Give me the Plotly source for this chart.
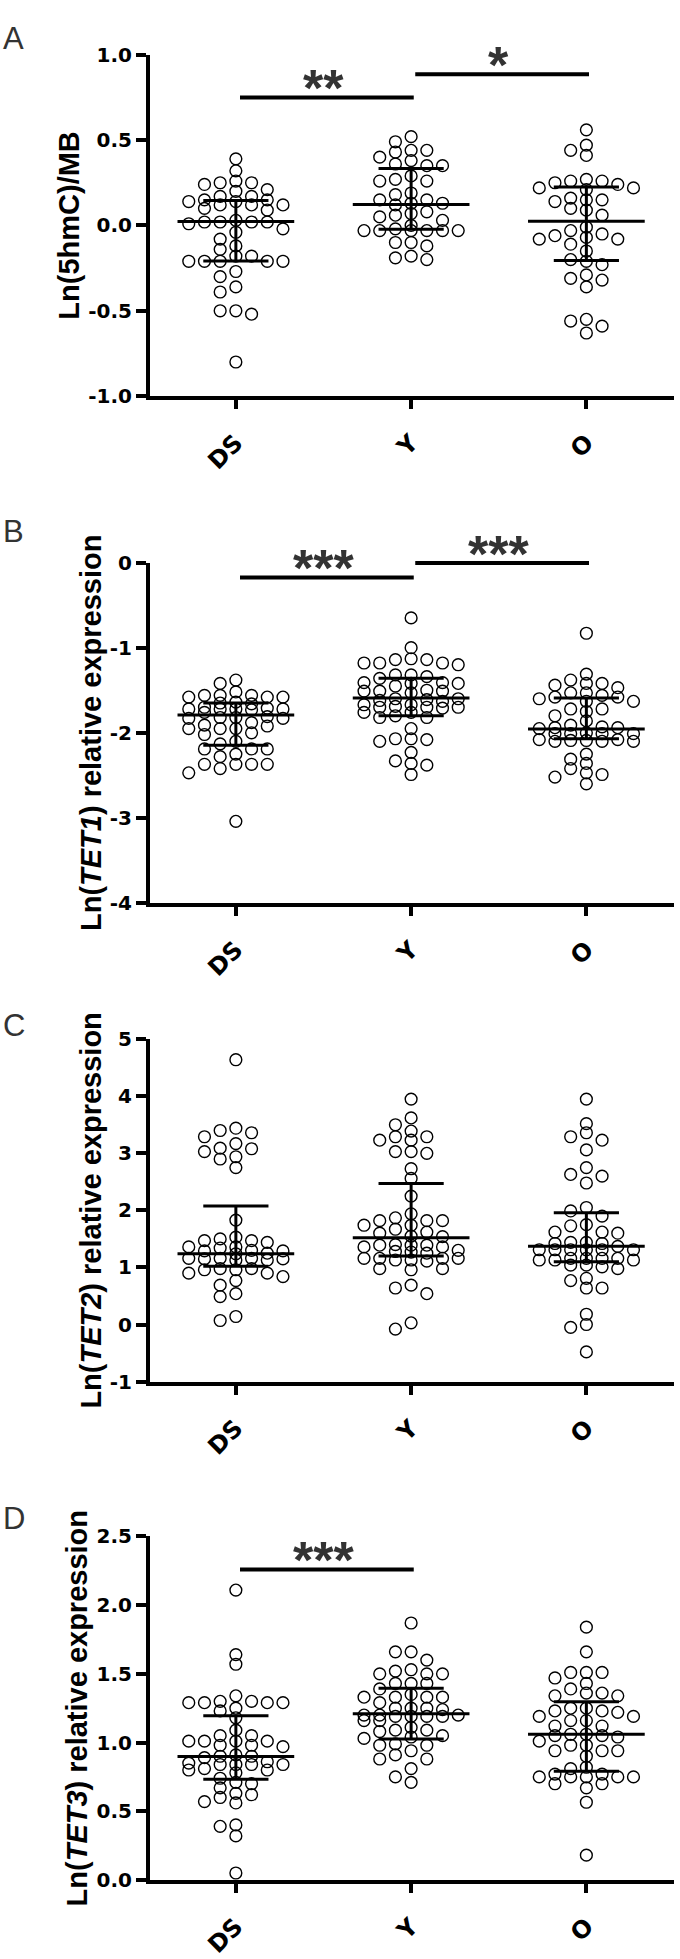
import numpy as np
import plotly.graph_objects as go

groups = ["DS", "Y", "O"]

# ---------------- Panel A: Ln(5hmC)/MB ----------------
a_ds = [0.39, 0.32, 0.26, 0.25, 0.24, 0.25, 0.21, 0.20, 0.17, 0.17, 0.15, 0.14, 0.12, 0.12,
        0.12, 0.14, 0.15, 0.10, 0.09, 0.03, 0.01, 0.02, 0.02, 0.02, 0.02, -0.02, -0.04, -0.08,
        -0.12, -0.14, -0.18, -0.18, -0.21, -0.21, -0.21, -0.21, -0.21, -0.27, -0.30, -0.36,
        -0.39, -0.50, -0.52, -0.50, -0.80]
a_y = [0.52, 0.49, 0.44, 0.44, 0.43, 0.40, 0.38, 0.35, 0.35, 0.36, 0.29, 0.27, 0.26, 0.26,
       0.19, 0.18, 0.15, 0.12, 0.13, 0.13, 0.15, 0.08, 0.07, 0.05, 0.03, 0.06, 0.00, -0.03,
       -0.03, -0.03, -0.03, -0.03, -0.03, -0.02, -0.10, -0.10, -0.12, -0.18, -0.20, -0.19]
a_o = [0.56, 0.47, 0.44, 0.41, 0.26, 0.24, 0.27, 0.26, 0.25, 0.22, 0.21, 0.22, 0.16, 0.15,
       0.14, 0.15, 0.10, 0.09, 0.06, -0.01, -0.05, -0.07, -0.08, -0.08, -0.06, -0.03, -0.11,
       -0.15, -0.20, -0.23, -0.21, -0.29, -0.32, -0.36, -0.31, -0.56, -0.63, -0.59, -0.55]
a_med = [0.023, 0.123, 0.025]
a_hi = [0.146, 0.333, 0.225]
a_lo = [-0.208, -0.023, -0.206]

# ---------------- Panel B: Ln(TET1) ----------------
b_ds = [-1.38, -1.42, -1.52, -1.56, -1.56, -1.58, -1.58, -1.58, -1.56, -1.64, -1.66, -1.65,
        -1.71, -1.72, -1.72, -1.72, -1.73, -1.72, -1.70, -1.76, -1.82, -1.83, -1.82, -1.83,
        -1.81, -1.88, -1.91, -1.95, -1.95, -1.95, -1.92, -2.00, -2.02, -2.10, -2.13, -2.19,
        -2.25, -2.19, -2.19, -2.28, -2.37, -2.37, -2.42, -2.47, -2.37, -2.37, -3.04]
b_y = [-0.65, -1.00, -1.14, -1.18, -1.20, -1.13, -1.18, -1.18, -1.14, -1.32, -1.32, -1.36,
       -1.34, -1.42, -1.41, -1.41, -1.45, -1.42, -1.50, -1.51, -1.51, -1.51, -1.53, -1.60,
       -1.62, -1.60, -1.61, -1.63, -1.67, -1.70, -1.71, -1.69, -1.70, -1.70, -1.67, -1.76,
       -1.80, -1.82, -1.82, -1.76, -1.95, -2.07, -2.10, -2.07, -2.08, -2.23, -2.36, -2.38,
       -2.33, -2.49]
b_o = [-0.83, -1.31, -1.38, -1.42, -1.44, -1.42, -1.47, -1.53, -1.53, -1.56, -1.58, -1.63,
       -1.63, -1.60, -1.58, -1.72, -1.75, -1.72, -1.80, -1.86, -1.91, -1.93, -1.95, -1.94,
       -1.94, -2.00, -2.01, -2.01, -2.01, -2.01, -2.08, -2.09, -2.10, -2.10, -2.10, -2.09,
       -2.08, -2.25, -2.31, -2.36, -2.42, -2.49, -2.52, -2.47, -2.60]
b_med = [-1.79, -1.59, -1.955]
b_hi = [-1.65, -1.36, -1.59]
b_lo = [-2.145, -1.80, -2.07]

# ---------------- Panel C: Ln(TET2) ----------------
c_ds = [4.64, 3.44, 3.40, 3.36, 3.29, 3.17, 3.08, 3.03, 3.09, 2.94, 2.90, 2.75, 1.83, 1.50,
        1.47, 1.44, 1.47, 1.53, 1.36, 1.36, 1.34, 1.29, 1.25, 1.29, 1.30, 1.24, 1.16, 1.15,
        1.13, 1.15, 1.13, 1.16, 1.16, 0.98, 0.96, 0.90, 0.84, 0.90, 0.96, 0.98, 0.77, 0.69,
        0.54, 0.49, 0.14, 0.07]
c_y = [3.95, 3.62, 3.50, 3.39, 3.29, 3.29, 3.23, 3.23, 3.03, 3.00, 3.03, 2.73, 2.56, 2.25,
       1.94, 1.87, 1.82, 1.82, 1.82, 1.74, 1.67, 1.60, 1.62, 1.74, 1.54, 1.55, 1.39, 1.36,
       1.30, 1.40, 1.39, 1.36, 1.39, 1.28, 1.27, 1.25, 1.16, 1.16, 1.13, 1.13, 1.16, 1.11,
       1.16, 0.98, 0.96, 0.98, 0.64, 0.54, 0.69, 0.03, -0.08]
c_o = [3.95, 3.52, 3.36, 3.29, 3.23, 3.06, 2.75, 2.63, 2.60, 2.48, 2.05, 1.99, 1.90, 1.73,
       1.62, 1.60, 1.62, 1.75, 1.42, 1.44, 1.44, 1.42, 1.37, 1.31, 1.31, 1.31, 1.31, 1.31,
       1.31, 1.16, 1.16, 1.13, 1.13, 1.13, 1.16, 1.16, 1.04, 1.01, 0.98, 1.04, 0.77, 0.64,
       0.64, 0.81, 0.18, 0.00, -0.05, -0.48]
c_med = [1.24, 1.52, 1.37]
c_hi = [2.075, 2.47, 1.96]
c_lo = [1.02, 1.20, 1.10]

# ---------------- Panel D: Ln(TET3) ----------------
d_ds = [2.11, 1.64, 1.57, 1.34, 1.30, 1.30, 1.29, 1.29, 1.29, 1.29, 1.25, 1.23, 1.18, 1.09,
        1.05, 1.05, 1.01, 1.01, 1.01, 1.01, 0.98, 0.98, 0.97, 0.91, 0.90, 0.89, 0.90, 0.85,
        0.84, 0.84, 0.84, 0.86, 0.84, 0.80, 0.81, 0.80, 0.78, 0.74, 0.71, 0.70, 0.67, 0.63,
        0.62, 0.60, 0.57, 0.56, 0.40, 0.39, 0.32, 0.05]
d_y = [1.87, 1.66, 1.66, 1.60, 1.53, 1.50, 1.50, 1.50, 1.52, 1.43, 1.43, 1.43, 1.39, 1.35,
       1.33, 1.33, 1.33, 1.33, 1.29, 1.25, 1.24, 1.25, 1.25, 1.20, 1.19, 1.19, 1.20, 1.20,
       1.19, 1.19, 1.16, 1.16, 1.11, 1.09, 1.09, 1.08, 1.05, 1.04, 1.03, 0.99, 0.94, 0.98,
       0.98, 0.88, 0.88, 0.91, 0.81, 0.71, 0.75]
d_o = [1.84, 1.66, 1.51, 1.51, 1.47, 1.51, 1.43, 1.39, 1.36, 1.34, 1.34, 1.36, 1.25, 1.25,
       1.23, 1.19, 1.19, 1.23, 1.22, 1.16, 1.16, 1.12, 1.12, 1.06, 1.05, 1.05, 1.06, 1.04,
       1.01, 0.98, 0.94, 0.94, 0.94, 0.98, 0.90, 0.82, 0.81, 0.77, 0.75, 0.75, 0.75, 0.75,
       0.75, 0.77, 0.70, 0.70, 0.67, 0.565, 0.18]
d_med = [0.899, 1.21, 1.06]
d_hi = [1.194, 1.395, 1.297]
d_lo = [0.733, 1.026, 0.79]

# significance comparisons: (group i, group j, bar height, label)
a_sig = [(0, 1, 0.75, "**"), (1, 2, 0.885, "*")]
b_sig = [(0, 1, -0.175, "***"), (1, 2, -0.005, "***")]
c_sig = []
d_sig = [(0, 1, 2.26, "***")]

a_ticks = [-1.0, -0.5, 0.0, 0.5, 1.0]
a_ticktext = ["-1.0", "-0.5", "0.0", "0.5", "1.0"]
b_ticks = [-4, -3, -2, -1, 0]
b_ticktext = ["-4", "-3", "-2", "-1", "0"]
c_ticks = [-1, 0, 1, 2, 3, 4, 5]
c_ticktext = ["-1", "0", "1", "2", "3", "4", "5"]
d_ticks = [0.0, 0.5, 1.0, 1.5, 2.0, 2.5]
d_ticktext = ["0.0", "0.5", "1.0", "1.5", "2.0", "2.5"]

panels = [
    dict(letter="A", vals=[a_ds, a_y, a_o], med=a_med, hi=a_hi, lo=a_lo, sig=a_sig,
         yr=[-1, 1], tv=a_ticks, tt=a_ticktext, title="<b>Ln(5hmC)/MB</b>",
         top=43.3, bot=389.3, ltop=7),
    dict(letter="B", vals=[b_ds, b_y, b_o], med=b_med, hi=b_hi, lo=b_lo, sig=b_sig,
         yr=[-4, 0], tv=b_ticks, tt=b_ticktext,
         title="<b>Ln(<i>TET1</i>) relative expression</b>",
         top=558, bot=903, ltop=507),
    dict(letter="C", vals=[c_ds, c_y, c_o], med=c_med, hi=c_hi, lo=c_lo, sig=c_sig,
         yr=[-1, 5], tv=c_ticks, tt=c_ticktext,
         title="<b>Ln(<i>TET2</i>) relative expression</b>",
         top=1041, bot=1388, ltop=1007),
    dict(letter="D", vals=[d_ds, d_y, d_o], med=d_med, hi=d_hi, lo=d_lo, sig=d_sig,
         yr=[0, 2.5], tv=d_ticks, tt=d_ticktext,
         title="<b>Ln(<i>TET3</i>) relative expression</b>",
         top=1545, bot=1893, ltop=1507),
]

W, H = 680, 1959
X_LEFT, X_RIGHT = 150, 674
XR = [-0.49, 2.50]
CAT_PX = (X_RIGHT - X_LEFT) / (XR[1] - XR[0])
FONT = "Liberation Sans, Arial, sans-serif"
WIDE = "DejaVu Sans, Liberation Sans, sans-serif"


def swarm(vals, ppu, s_px=15.7, thr=9.0, maxcol=3):
    """Place points on discrete columns (dot-plot style), at most +/-maxcol columns."""
    v = np.asarray(vals, dtype=float)
    order = np.argsort(-v, kind="stable")
    placed = {}
    offs = np.zeros(len(v))
    cols = [0]
    for k in range(1, maxcol + 1):
        cols += [-k, k]
    for idx in order:
        y = v[idx] * ppu
        chosen = None
        for c in cols:
            if all(abs(y - yy) >= thr for yy in placed.get(c, [])):
                chosen = c
                break
        if chosen is None:
            best = -1
            for c in cols:
                d = min(abs(y - yy) for yy in placed.get(c, [])) if placed.get(c) else 1e9
                if d > best + 0.5:
                    best, chosen = d, c
        placed.setdefault(chosen, []).append(y)
        offs[idx] = chosen * s_px / CAT_PX
    return offs


fig = go.Figure()
annotations = []
layout_axes = {}

for p, P in enumerate(panels):
    n = "" if p == 0 else str(p + 1)
    xa, ya = "x" + n, "y" + n
    ppu = (P["bot"] - P["top"]) / (P["yr"][1] - P["yr"][0])

    for g in range(3):
        vals = P["vals"][g]
        offs = swarm(vals, ppu)
        fig.add_trace(go.Scatter(
            x=g + offs, y=vals, mode="markers", xaxis=xa, yaxis=ya,
            marker=dict(symbol="circle-open", size=11.8, color="black",
                        line=dict(width=1.4, color="black")),
            cliponaxis=False, showlegend=False, hoverinfo="skip"))

    # median with interquartile range
    ex, ey = [], []
    for g in range(3):
        m, hi, lo = P["med"][g], P["hi"][g], P["lo"][g]
        ex += [g - 0.333, g + 0.333, None, g - 0.186, g + 0.186, None,
               g - 0.186, g + 0.186, None, g, g, None]
        ey += [m, m, None, hi, hi, None, lo, lo, None, hi, lo, None]
    fig.add_trace(go.Scatter(x=ex, y=ey, mode="lines", xaxis=xa, yaxis=ya,
                             line=dict(color="black", width=3),
                             showlegend=False, hoverinfo="skip"))

    # significance bars (annotation lines are not clipped at the plot edge)
    for (i, j, h, lab) in P["sig"]:
        x0, x1 = i + 0.015, j + 0.015
        annotations.append(dict(
            x=x1, y=h, ax=x0, ay=h, xref=xa, yref=ya, axref=xa, ayref=ya,
            text="", showarrow=True, arrowhead=0, arrowwidth=4, arrowcolor="black",
            standoff=0, startstandoff=0))
        annotations.append(dict(
            x=(i + j) / 2, y=h, xref=xa, yref=ya, text=lab, showarrow=False,
            yanchor="middle", yshift=9,
            font=dict(family=FONT, size=52, color="#333333", weight="bold")))

    # panel letter
    annotations.append(dict(
        x=1 / W, y=1 - P["ltop"] / H, xref="paper", yref="paper", text=P["letter"],
        showarrow=False, xanchor="left", yanchor="top",
        font=dict(family=FONT, size=31, color="#333333")))

    layout_axes["xaxis" + n] = dict(
        domain=[X_LEFT / W, X_RIGHT / W], anchor=ya, range=XR,
        tickvals=[0, 1, 2], ticktext=groups, tickangle=-45,
        ticks="outside", ticklen=9, tickwidth=4, tickcolor="black",
        ticklabelstandoff=10,
        showline=True, linewidth=4, linecolor="black",
        showgrid=False, zeroline=False, fixedrange=True,
        tickfont=dict(family=WIDE, size=24, color="black", weight="bold"))
    layout_axes["yaxis" + n] = dict(
        domain=[1 - P["bot"] / H, 1 - P["top"] / H], anchor=xa, range=P["yr"],
        tickvals=P["tv"], ticktext=P["tt"],
        ticks="outside", ticklen=10, tickwidth=4, tickcolor="black",
        showline=True, linewidth=4, linecolor="black",
        showgrid=False, zeroline=False, fixedrange=True,
        tickfont=dict(family=WIDE, size=20, color="black", weight="bold"),
        title=dict(text=P["title"], standoff=1,
                   font=dict(family=FONT, size=29, color="black")))

fig.update_layout(
    width=W, height=H, margin=dict(l=0, r=0, t=0, b=0),
    paper_bgcolor="white", plot_bgcolor="white",
    annotations=annotations, **layout_axes)

fig.write_html("out.html", config={"displayModeBar": False},
               post_script="document.body.style.margin='0';")
